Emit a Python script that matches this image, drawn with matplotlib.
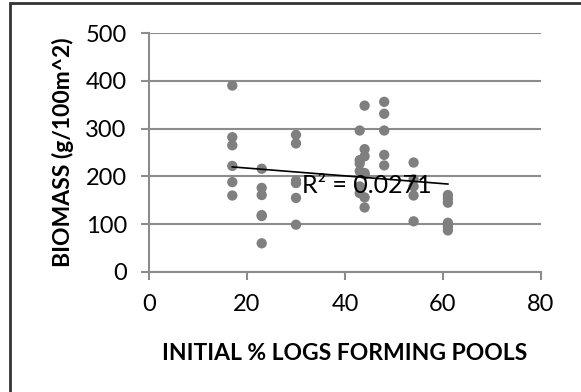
import numpy as np
import matplotlib
matplotlib.use("Agg")
import matplotlib.pyplot as plt
from matplotlib.patches import Rectangle

# Data
x17 = [17, 17, 17, 17, 17, 17]
y17 = [390, 282, 265, 222, 188, 160]
x23 = [23, 23, 23, 23, 23, 23]
y23 = [216, 176, 161, 119, 117, 60]
x30 = [30, 30, 30, 30, 30, 30]
y30 = [287, 269, 191, 186, 155, 99]
x43 = [43, 43, 43, 43, 43, 43]
y43 = [296, 234, 227, 211, 179, 165]
x44 = [44, 44, 44, 44, 44, 44, 44]
y44 = [348, 257, 242, 207, 204, 156, 135]
x48 = [48, 48, 48, 48, 48]
y48 = [356, 331, 296, 245, 223]
x54 = [54, 54, 54, 54, 54]
y54 = [229, 194, 179, 160, 106]
x61 = [61, 61, 61, 61, 61, 61]
y61 = [161, 153, 145, 103, 95, 87]

x_all = np.array(x17 + x23 + x30 + x43 + x44 + x48 + x54 + x61, dtype=float)
y_all = np.array(y17 + y23 + y30 + y43 + y44 + y48 + y54 + y61, dtype=float)

x_ticks = [0, 20, 40, 60, 80]
y_ticks = [0, 100, 200, 300, 400, 500]
r2_label = "R² = 0.0271"
x_title = "INITIAL % LOGS FORMING POOLS"
y_title = "BIOMASS (g/100m^2)"

plt.rcParams['font.family'] = ['Lato', 'DejaVu Sans']

W, H = 581, 392
fig = plt.figure(figsize=(W / 100, H / 100), dpi=100)
ax = fig.add_axes([149 / W, 1 - 272 / H, (541 - 149) / W, (272 - 33) / H])

grid_c = '#8c8c8c'
ax.set_xlim(0, 80)
ax.set_ylim(0, 500)
ax.set_xticks(x_ticks)
ax.set_yticks(y_ticks)
ax.yaxis.grid(True, color=grid_c, linewidth=1.5)
ax.set_axisbelow(True)
for s in ['top', 'right']:
    ax.spines[s].set_visible(False)
for s in ['left', 'bottom']:
    ax.spines[s].set_color(grid_c)
    ax.spines[s].set_linewidth(1.5)
ax.tick_params(axis='both', colors=grid_c, width=1.5, length=6, direction='out',
               labelcolor='black', labelsize=17)
ax.tick_params(axis='x', pad=10)
ax.tick_params(axis='y', pad=10)

ax.scatter(x_all, y_all, s=55, color='#7f7f7f', edgecolors='none', zorder=3, clip_on=False)

# linear trendline
m, b = np.polyfit(x_all, y_all, 1)
xl = np.array([x_all.min(), x_all.max()])
ax.plot(xl, m * xl + b, color='black', linewidth=1.2, zorder=4)

ax.text(31.3, 180, r2_label, fontsize=18, va='center', ha='left', zorder=5)

ax.set_xlabel(x_title, fontsize=16.5, fontweight='bold')
ax.set_ylabel(y_title, fontsize=16.5, fontweight='bold')
ax.xaxis.set_label_coords(0.5, (272 - 353) / 239)
ax.yaxis.set_label_coords((63 - 149) / 392, 0.5)
ax.xaxis.label.set_va('center')
ax.yaxis.label.set_va('center')

# outer chart border (cropped at right/bottom)
fig.patches.append(Rectangle((9.5 / W, -0.1), 1.2, 1 - 3.5 / H + 0.1,
                             transform=fig.transFigure, fill=False,
                             edgecolor='#333333', linewidth=2))

fig.savefig('out.png', dpi=100)
